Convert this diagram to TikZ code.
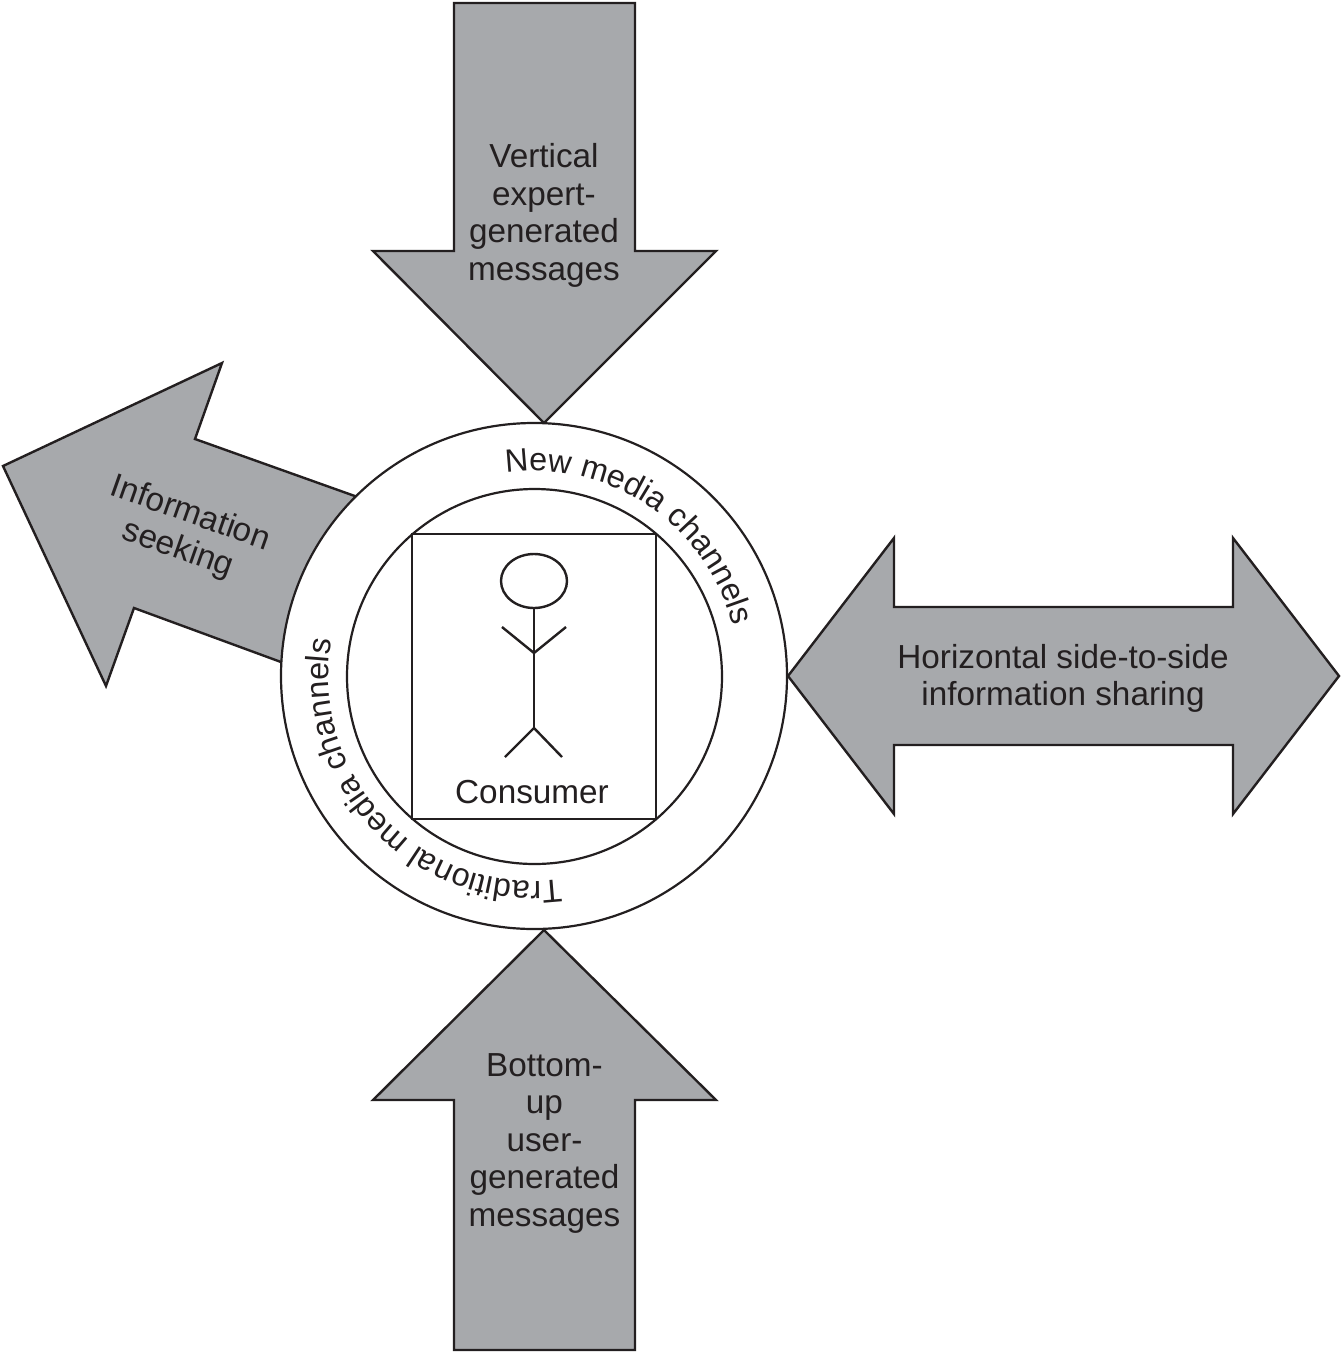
\documentclass[tikz,border=0pt]{standalone}
\usepackage{fontspec}
\setmainfont{Liberation Sans}
\usetikzlibrary{decorations.text,shapes.geometric}
\definecolor{ink}{HTML}{231F20}
\definecolor{flow}{HTML}{A7A9AC}
\newcommand{\labelfont}{\fontsize{33.3}{37.5}\selectfont}
\newcommand{\ringfont}{\fontsize{32.3}{36}\selectfont}
\tikzset{
  flowarrow/.style={draw=ink,fill=flow,line width=2.4pt,line join=miter},
  ring/.style={draw=ink,fill=white,line width=2.2pt},
  figure line/.style={draw=ink,line width=2.4pt},
  caption/.style={text=ink,font=\labelfont,align=center,inner sep=0pt},
}
\begin{document}
\begin{tikzpicture}[x=1pt,y=-1pt]
\useasboundingbox (0,0) rectangle (1342,1353);
% the four information flows, with the rings laid over their inner ends
\draw[flowarrow] (454,3) -- (635,3) -- (635,251) -- (716,251) -- (544,423) -- (373,251) -- (454,251) -- cycle;
\draw[flowarrow] (544,930) -- (716,1100) -- (635,1100) -- (635,1350) -- (454,1350) -- (454,1100) -- (373,1100) -- cycle;
\draw[flowarrow] (788,676) -- (894,538) -- (894,607) -- (1233,607) -- (1233,538) -- (1339,676) -- (1233,814) -- (1233,745) -- (894,745) -- (894,814) -- cycle;
\draw[flowarrow] (3,466) -- (222,363) -- (195,439) -- (380,505) -- (300,669) -- (134,608) -- (106,686) -- cycle;
% media rings and the consumer's frame
\node[ring,circle,minimum size=506pt,inner sep=0pt] (outerring) at (534,676) {};
\node[ring,circle,minimum size=375pt,inner sep=0pt] (innerring) at (534.5,676.5) {};
\node[ring,rectangle,minimum width=244pt,minimum height=285pt,inner sep=0pt] (frame) at (534,676.5) {};
% stick figure
\node[figure line,ellipse,minimum width=66pt,minimum height=54pt,inner sep=0pt] (head) at (534,581) {};
\coordinate (shoulder) at (534,653);
\coordinate (hip) at (534,728);
\draw[figure line] (head.south) -- (hip);
\draw[figure line] (502,627) -- (shoulder) -- (566,627);
\draw[figure line] (505,757) -- (hip) -- (562,757);
\node[caption] (consumer) at (532,792) {Consumer};
% captions of the arrows
\node[caption] (vertical) at (544,215.5) {Vertical\\expert-\\generated\\messages};
\node[caption] (bottomup) at (544.5,1143) {Bottom-\\up\\user-\\generated\\messages};
\node[caption] (horizontal) at (1063,678.5) {Horizontal side-to-side\\information sharing};
\node[caption,rotate=-19.5] (seeking) at (184,532) {Information\\seeking};
% ring labels, set along clockwise arcs
\begin{scope}[shift={(534,676)},y=1pt]
\path[decorate,decoration={text along path,text={|\color{ink}\ringfont|New media channels}}]
  (97.9:205) arc[start angle=97.9,end angle=-20,radius=205];
\path[decorate,decoration={text along path,text={|\color{ink}\ringfont|Traditional media channels}}]
  (-82.5:205.5) arc[start angle=-82.5,end angle=-240,radius=205.5];
\end{scope}
\end{tikzpicture}
\end{document}
